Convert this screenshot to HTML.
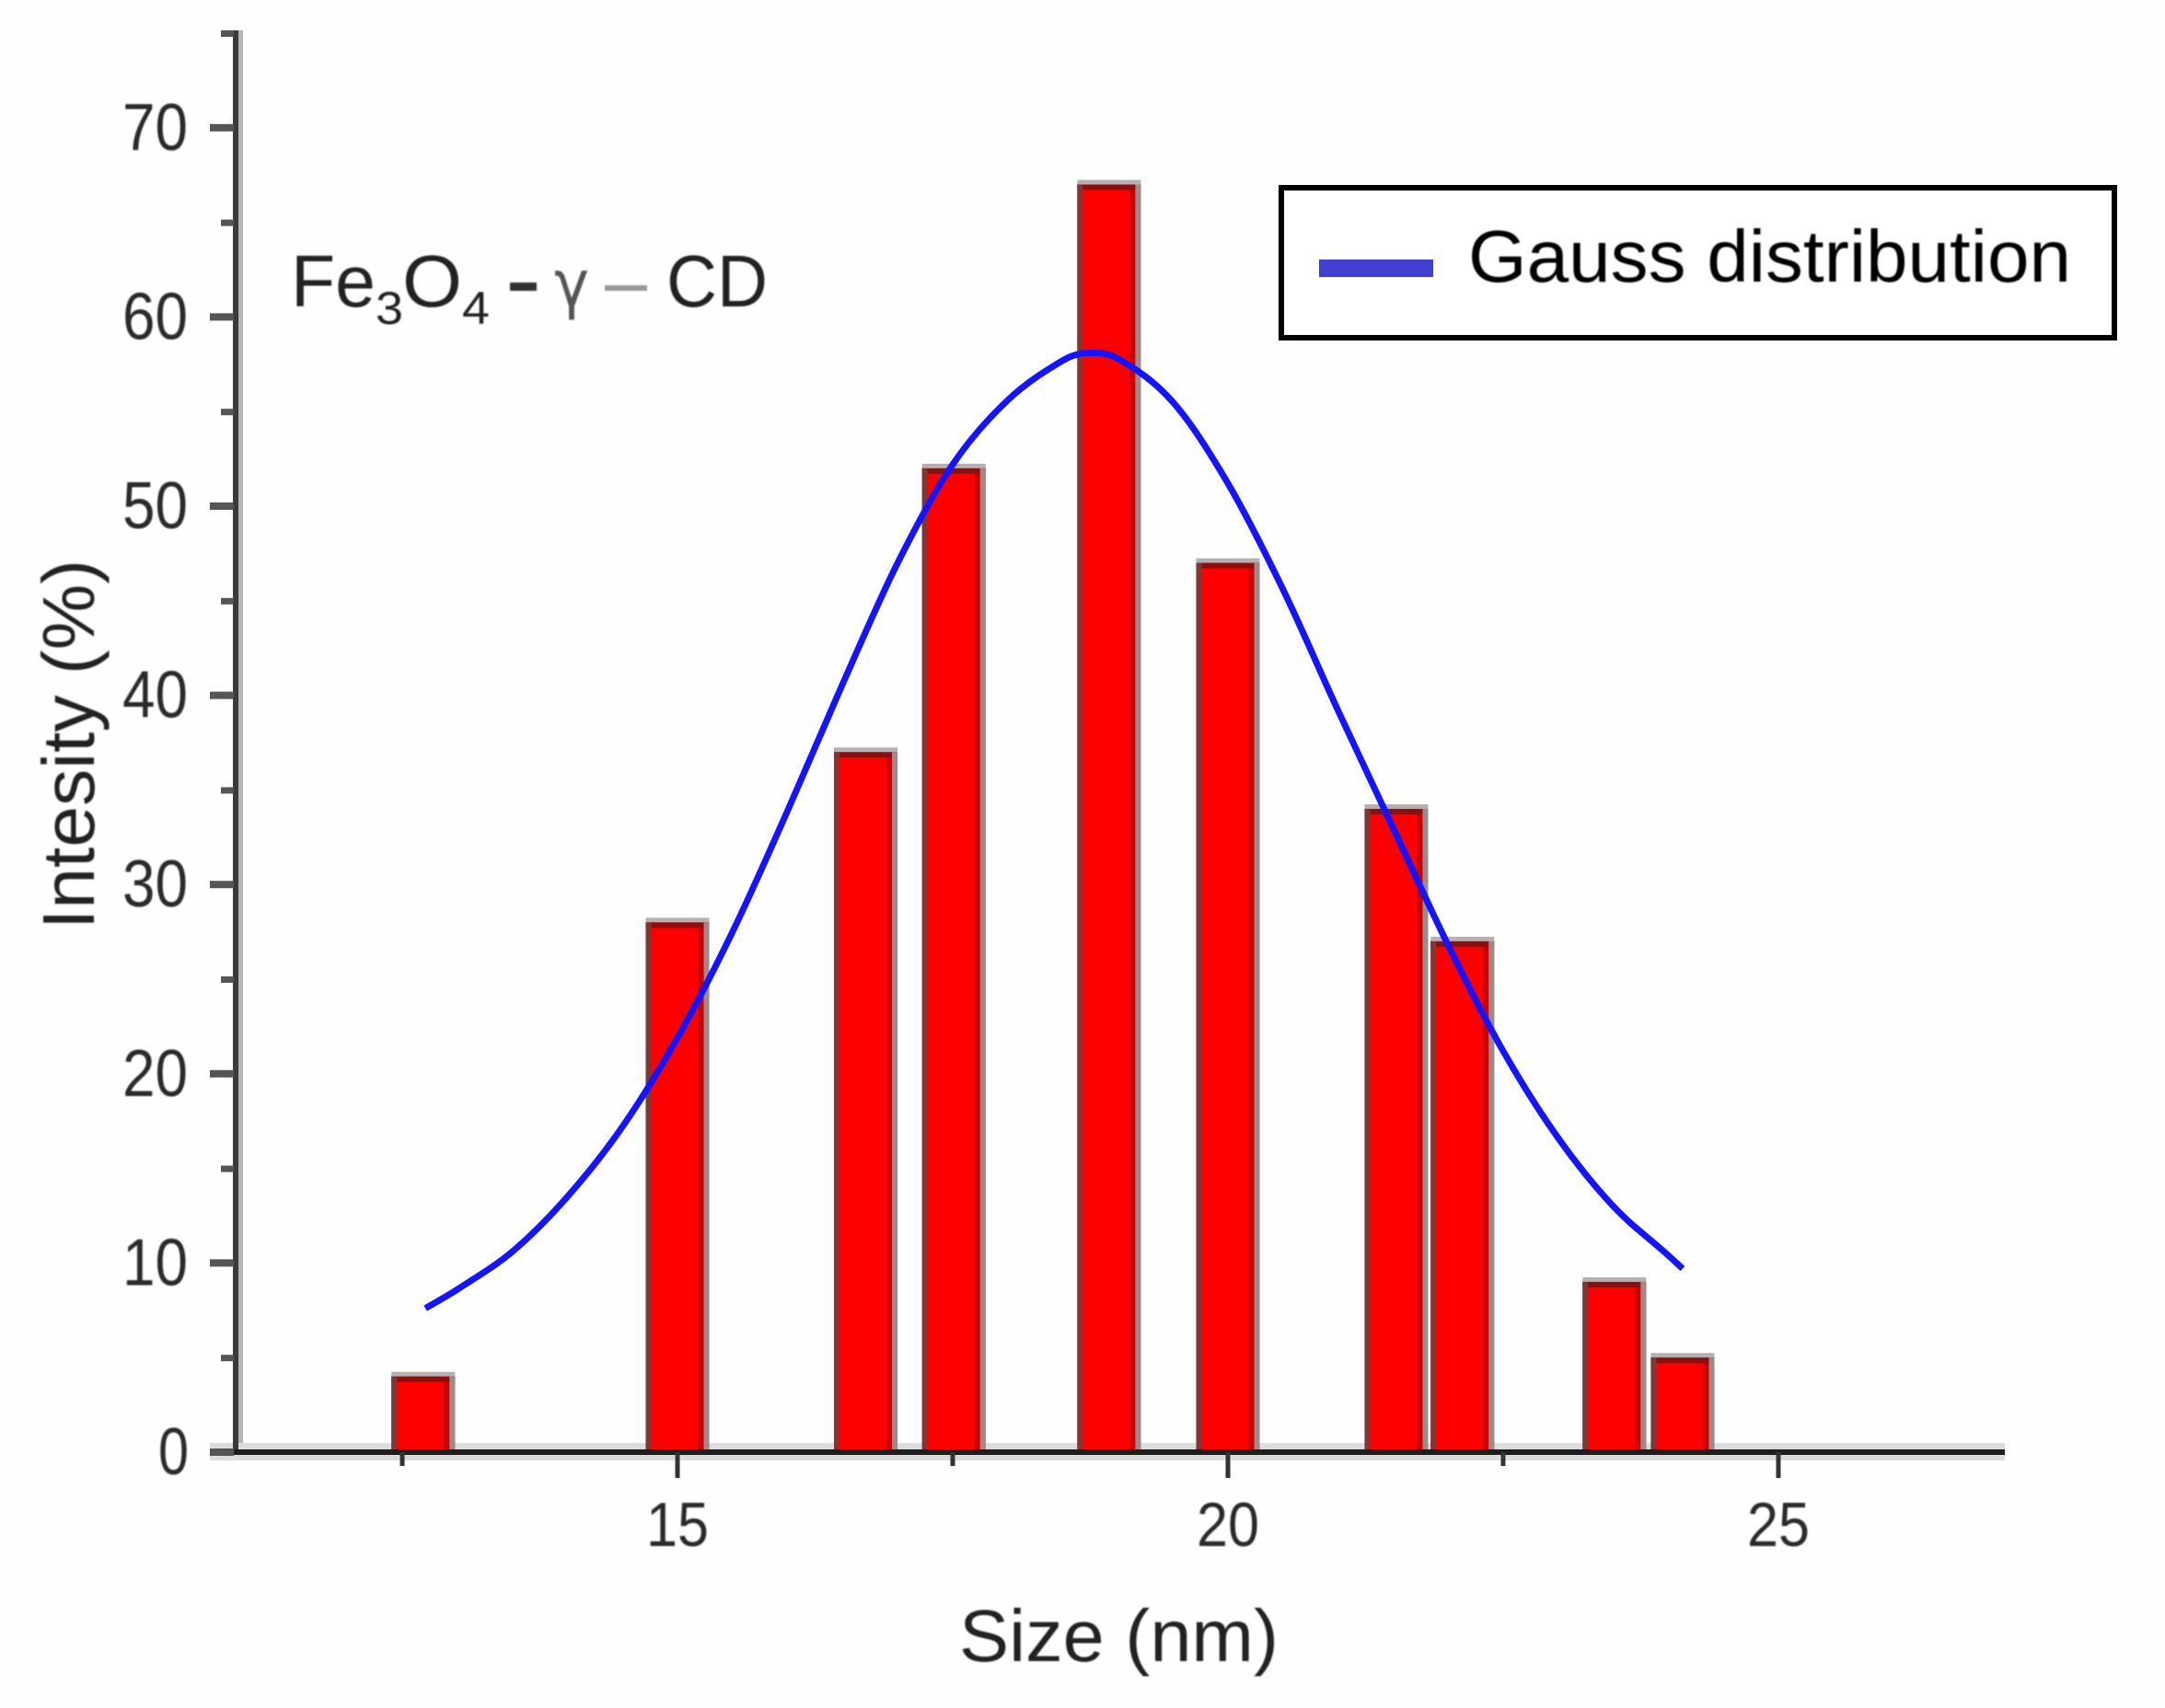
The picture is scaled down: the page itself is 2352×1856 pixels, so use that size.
<!DOCTYPE html>
<html lang="en">
<head>
<meta charset="utf-8">
<title>Fe3O4 size distribution</title>
<style>
html,body{margin:0;padding:0;background:#fefefe;width:2352px;height:1856px;overflow:hidden}
svg{display:block;font-family:"Liberation Sans",Arial,sans-serif}
</style>
</head>
<body>
<svg id="chart" xmlns="http://www.w3.org/2000/svg" width="2352" height="1856" viewBox="0 0 2352 1856">
  <defs>
    <filter id="soft" x="-5%" y="-5%" width="110%" height="110%"><feGaussianBlur stdDeviation="0.9"/></filter>
  </defs>
  <rect width="2352" height="1856" fill="#fefefe"/>
  <g id="plot"></g>
  <g id="labels" filter="url(#soft)">
    <text x="1042" y="1805" font-size="80" fill="#222" textLength="347" lengthAdjust="spacingAndGlyphs">Size (nm)</text>
    <text transform="translate(102,1010) rotate(-90)" font-size="80" fill="#222" textLength="402" lengthAdjust="spacingAndGlyphs">Intesity (%)</text>
    <g fill="#222">
      <text x="316" y="333" font-size="80" textLength="92" lengthAdjust="spacingAndGlyphs">Fe</text>
      <text x="408" y="352" font-size="50" textLength="30" lengthAdjust="spacingAndGlyphs">3</text>
      <text x="437" y="333" font-size="80" textLength="65" lengthAdjust="spacingAndGlyphs">O</text>
      <text x="502" y="352" font-size="50" textLength="30" lengthAdjust="spacingAndGlyphs">4</text>
      <rect x="554" y="307" width="29" height="9" fill="#333"/>
      <text x="602" y="333" font-size="70" fill="#555" font-family="'DejaVu Sans',sans-serif" textLength="38" lengthAdjust="spacingAndGlyphs">γ</text>
      <rect x="657" y="310" width="46" height="6" fill="#999"/>
      <text x="724" y="333" font-size="80" textLength="110" lengthAdjust="spacingAndGlyphs">CD</text>
    </g>
  </g>
  <g>
    <rect x="1392" y="204" width="905" height="163" fill="#fff" stroke="#000" stroke-width="6"/>
    <rect x="1433" y="282" width="124" height="19" fill="#4040d0"/>
    <text x="1595" y="306" font-size="80" fill="#000" textLength="655" lengthAdjust="spacingAndGlyphs" filter="url(#soft)">Gauss distribution</text>
  </g>
</svg>
<script>
const barSizes = [12.69, 15, 16.71, 17.51, 18.92, 20, 21.53, 22.13, 23.51, 24.13];
const barCounts = [4, 28, 37, 52, 67, 47, 34, 27, 9, 5];
const curveSizes = [12.71, 13, 13.5, 14, 14.5, 15, 15.5, 16, 16.5, 17, 17.5, 18, 18.5, 18.72, 19, 19.5, 20, 20.5, 21, 21.5, 22, 22.5, 23, 23.5, 24, 24.13];
const curveValues = [7.6, 8.6, 10.6, 13.5, 17.2, 21.9, 27.5, 33.9, 40.6, 47, 52.2, 55.6, 57.7, 58.1, 57.8, 55.5, 51.2, 45.6, 39.2, 33, 26.8, 21.2, 16.6, 13, 10.4, 9.7];
const yMajorTicks = [0, 10, 20, 30, 40, 50, 60, 70];
const yMinorTicks = [5, 15, 25, 35, 45, 55, 65, 75];
const xMajorTicks = [15, 20, 25];
const xMinorTicks = [12.5, 17.5, 22.5];
const barWidthUnits = 0.527;

const xScale = v => 736 + (v - 15) * 119.6;
const yScale = v => 1578 - v * 20.56;
const NS = 'http://www.w3.org/2000/svg';
const plot = document.getElementById('plot');
const labels = document.getElementById('labels');

function make(tag, attrs, parent) {
  const el = document.createElementNS(NS, tag);
  for (const k in attrs) el.setAttribute(k, attrs[k]);
  parent.appendChild(el);
  return el;
}

const xShadow = make('rect', {x: 228, y: 1568, width: 1950, height: 19, fill: '#dcdcdc'}, plot);



barSizes.forEach((s, i) => {
  const w = barWidthUnits * 119.6;
  const left = xScale(s) - w / 2;
  const top = yScale(barCounts[i]);
  const h = yScale(0) - top;
  const cap = make('rect', {x: left - 3, y: top - 5, width: w + 6, height: 5, fill: '#b8b0b0'}, plot);
  
  
  const bar = make('rect', {x: left - 3, y: top, width: w + 6, height: h, fill: '#ff0000'}, plot);
  
  
  const topEdge = make('rect', {x: left - 3, y: top, width: w + 6, height: 6, fill: '#8a1010'}, plot);
  
  
  const leftEdge = make('rect', {x: left - 3, y: top, width: 6, height: h, fill: '#7a3838'}, plot);
  
  
  const rightInner = make('rect', {x: left + w - 9, y: top + 6, width: 6, height: h - 6, fill: '#cc0000'}, plot);
  
  
  const rightEdge = make('rect', {x: left + w - 3, y: top, width: 6, height: h, fill: '#a08888'}, plot);
  
  
});

function smoothPath(px) {
  const last = px.length - 1;
  const slope = i => {
    const a = px[Math.max(i - 1, 0)], b = px[Math.min(i + 1, last)];
    return (b[1] - a[1]) / (b[0] - a[0]);
  };
  let d = 'M' + px[0][0] + ' ' + px[0][1];
  for (let i = 0; i < last; i++) {
    const p1 = px[i], p2 = px[i + 1], dx = (p2[0] - p1[0]) / 3;
    d += ' C' + (p1[0] + dx) + ' ' + (p1[1] + slope(i) * dx) + ' ' +
         (p2[0] - dx) + ' ' + (p2[1] - slope(i + 1) * dx) + ' ' + p2[0] + ' ' + p2[1];
  }
  return d;
}
const curve = make('path', {d: smoothPath(curveSizes.map((s, i) => [xScale(s), yScale(curveValues[i])])), fill: 'none', stroke: '#1414ff', 'stroke-width': 7}, plot);



const yShadow = make('rect', {x: 258, y: 33, width: 6, height: 1535, fill: '#b5b5b5'}, plot);


const yAxis = make('rect', {x: 253, y: 33, width: 6, height: 1548, fill: '#3a3a3a'}, plot);


const xAxis = make('rect', {x: 228, y: 1575, width: 1950, height: 6, fill: '#1e1e1e'}, plot);



yMajorTicks.forEach(v => {
  const t = make('rect', {x: 228, y: yScale(v) - 4, width: 26, height: 8, fill: '#555'}, plot);
  
  
  const l = make('text', {x: v === 0 ? 172 : 133, y: yScale(v) + 24, 'font-size': 72, fill: '#2a2a2a', textLength: v === 0 ? 33 : 71, lengthAdjust: 'spacingAndGlyphs'}, labels);
  
  
  l.textContent = v;
});
yMinorTicks.forEach(v => {
  const t = make('rect', {x: 240, y: yScale(v) - 3, width: 14, height: 7, fill: '#555'}, plot);
  
  
});
xMajorTicks.forEach(v => {
  const t = make('rect', {x: xScale(v) - 2.5, y: 1578, width: 5, height: 28, fill: '#333'}, plot);
  
  
  const l = make('text', {x: xScale(v) - 34, y: 1680, 'font-size': 68, fill: '#2a2a2a', textLength: 68, lengthAdjust: 'spacingAndGlyphs'}, labels);
  
  
  l.textContent = v;
});
xMinorTicks.forEach(v => {
  const t = make('rect', {x: xScale(v) - 2.5, y: 1578, width: 5, height: 15, fill: '#333'}, plot);
  
  
});
</script>
</body>
</html>
